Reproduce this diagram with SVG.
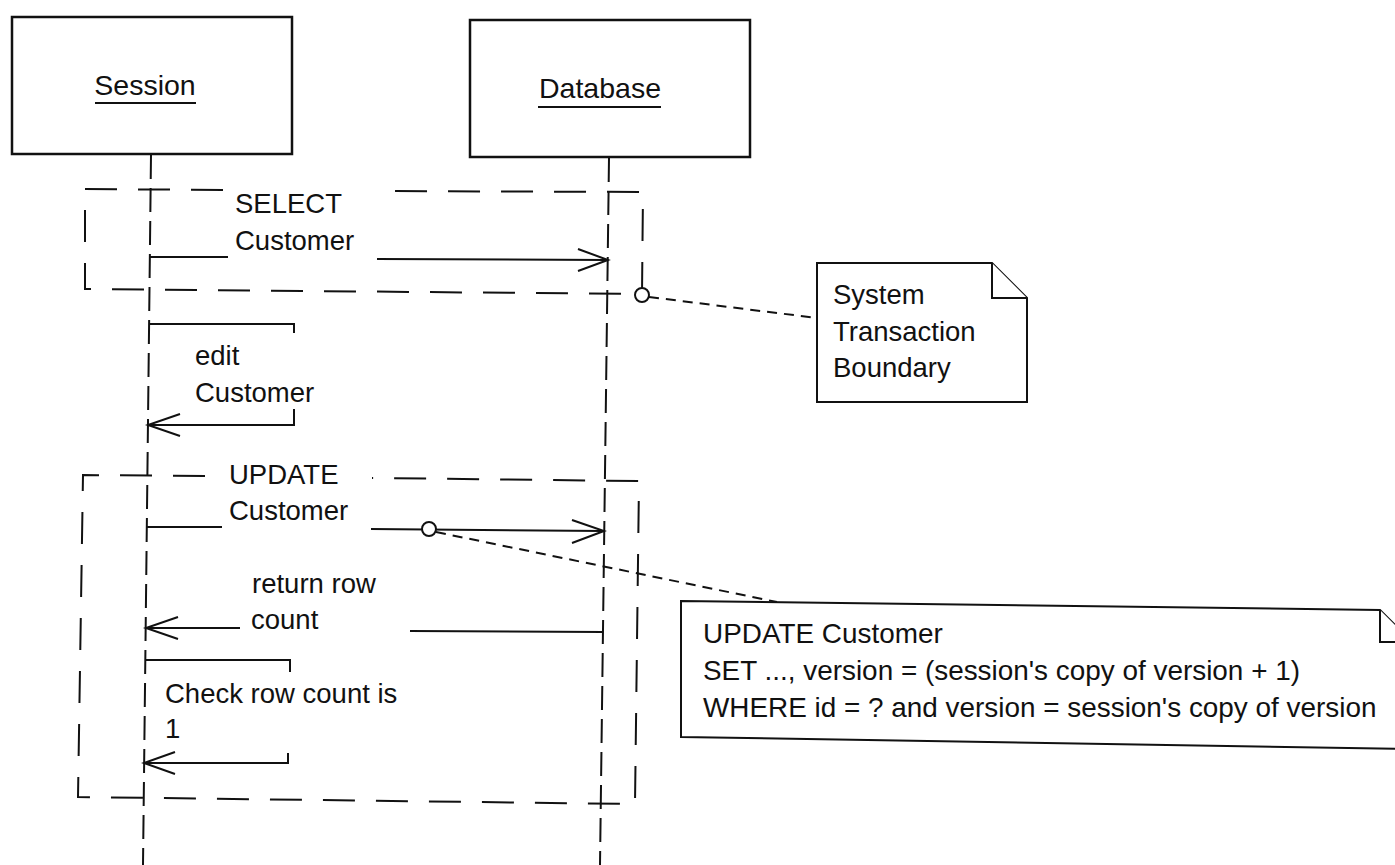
<svg xmlns="http://www.w3.org/2000/svg" width="1395" height="865" viewBox="0 0 1395 865">
<defs>
<style>
.box{fill:#fff;stroke:#111;stroke-width:2.5}
.t{font-family:"Liberation Sans",Arial,sans-serif;font-size:27.5px;fill:#111}
.n{font-family:"Liberation Sans",Arial,sans-serif;font-size:27.9px;fill:#111}
.h{font-family:"Liberation Sans",Arial,sans-serif;font-size:28.5px;fill:#111}
.life{fill:none;stroke:#111;stroke-width:2;stroke-dasharray:24 9}
.bound{fill:none;stroke:#111;stroke-width:2;stroke-dasharray:32 21}
.msg{fill:none;stroke:#111;stroke-width:2}
.head{fill:none;stroke:#111;stroke-width:2}
.link{fill:none;stroke:#111;stroke-width:2;stroke-dasharray:10 7}
.pin{fill:#fff;stroke:#111;stroke-width:2}
.note{fill:#fff;stroke:#111;stroke-width:2}
</style>
</defs>
<rect width="1395" height="865" fill="#fff"/>

<g id="lifelines">
<line class="life" x1="151" y1="155" x2="143" y2="865"/>
<line class="life" x1="609" y1="158" x2="600" y2="865"/>
</g>

<g id="session">
<rect class="box" x="12" y="17" width="280" height="137"/>
<text class="h" x="145" y="95" text-anchor="middle">Session</text>
<line x1="95" y1="103" x2="196" y2="103" stroke="#111" stroke-width="2"/>
</g>

<g id="database">
<rect class="box" x="470" y="20" width="280" height="137"/>
<text class="h" x="600" y="98" text-anchor="middle">Database</text>
<line x1="538" y1="107" x2="661" y2="107" stroke="#111" stroke-width="2"/>
</g>

<g id="select-boundary">
<path class="bound" d="M223,190 L85,189 L85,289 L642,294 L643,192 L379,191"/>
</g>

<g id="update-boundary">
<path class="bound" d="M205,476 L83,475 L78,797 L635,804 L639,481 L372,478"/>
</g>

<g id="connectors">
<!-- SELECT Customer -->
<path class="msg" d="M150,257 L228,257 M377,259 L608,260"/>
<path class="head" d="M578,249 L608,260 L578,271"/>
<!-- edit Customer -->
<path class="msg" d="M150,324 L294,324 L294,333 M294,409 L294,425 L148,425"/>
<path class="head" d="M180,414 L148,425 L180,436"/>
<!-- UPDATE Customer -->
<path class="msg" d="M147,527 L222,527 M371,529 L604,531"/>
<path class="head" d="M572,520 L604,531 L572,543"/>
<!-- return row count -->
<path class="msg" d="M603,632 L410,631 M240,628 L146,628"/>
<path class="head" d="M178,617 L146,628 L178,639"/>
<!-- Check row count is 1 -->
<path class="msg" d="M146,660 L290,660 L290,672 M288,753 L288,763 L144,763"/>
<path class="head" d="M175,752 L144,763 L175,774"/>
<!-- note links -->
<line class="link" x1="649" y1="297" x2="817" y2="318"/>
<line class="link" x1="436" y1="532" x2="777" y2="602"/>
<circle class="pin" cx="642" cy="295" r="7"/>
<circle class="pin" cx="429" cy="529" r="7"/>
</g>

<g id="labels">
<text class="t" x="235" y="213">SELECT</text>
<text class="t" x="235" y="250">Customer</text>
<text class="t" x="195" y="365">edit</text>
<text class="t" x="195" y="402">Customer</text>
<text class="t" x="229" y="484">UPDATE</text>
<text class="t" x="229" y="520">Customer</text>
<text class="t" x="252" y="593">return row</text>
<text class="t" x="251" y="629">count</text>
<text class="t" x="165" y="703">Check row count is</text>
<text class="t" x="165" y="738">1</text>
</g>

<g id="note-boundary">
<path class="note" d="M817,263 L992,263 L1027,298 L1027,402 L817,402 Z"/>
<path class="note" d="M992,263 L992,298 L1027,298"/>
<text class="t" x="833" y="304">System</text>
<text class="t" x="833" y="341">Transaction</text>
<text class="t" x="833" y="377">Boundary</text>
</g>

<g id="note-update">
<path class="note" d="M681,601 L1380,610 L1412,642 L1412,749 L681,737 Z"/>
<path class="note" d="M1380,610 L1380,642 L1412,642"/>
<text class="n" x="703" y="643">UPDATE Customer</text>
<text class="n" x="703" y="680">SET ..., version = (session's copy of version + 1)</text>
<text class="n" x="703" y="717">WHERE id = ? and version = session's copy of version</text>
</g>
</svg>
